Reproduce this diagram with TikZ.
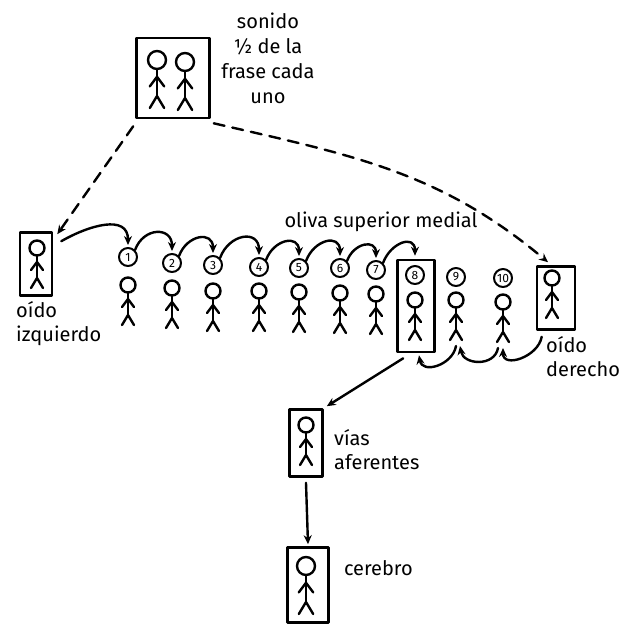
\documentclass[tikz,border=0pt]{standalone}
\usepackage{fontspec}
\setmainfont{Fira Sans}
\usetikzlibrary{arrows.meta,positioning}

\begin{document}
\begin{tikzpicture}[
x=1pt, y=1pt,
line width=2.4pt, line cap=round, line join=round,
box/.style={draw, rectangle, line width=2.6pt, inner sep=0pt},
num/.style={draw, circle, line width=2pt, inner sep=0pt,
	minimum size=18pt, font=\fontsize{12}{12}\selectfont},
lbl/.style={align=left, inner sep=0pt, font=\fontsize{20}{24}\selectfont},
arr/.style={-{Stealth[length=9pt,width=8pt]}},
dasharr/.style={arr, dash pattern=on 11pt off 8pt},
stick/.pic={
	\draw (0,0) circle (7.5);
	\draw (0,-7.5) -- (0,-30);
	\draw (-6,-22) -- (0,-14) -- (6,-22);
	\draw (-6,-40) -- (0,-30) -- (6,-40);
	\coordinate (-feet) at (0,-46);
}
]
\useasboundingbox (0,0) rectangle (619,-625);

% the sound source
\node[box, minimum width=73pt, minimum height=80pt] (sonido) at (173,-78) {};
\pic[scale=1.2] (s1) at (157,-60) {stick};
\pic[scale=1.2] (s2) at (185,-62) {stick};
\node[align=center, inner sep=0pt, font=\fontsize{20}{25}\selectfont]
	(sonidotxt) at (268,-58) {sonido\\½ de la\\frase cada\\uno};

% ears
\node[box, minimum width=32pt, minimum height=63pt] (izq) at (36,-264) {};
\pic (fi) at (37,-248) {stick};
\node[lbl, anchor=north west] (izqtxt) at (15,-300) {oído\\izquierdo};

\node[box, minimum width=38pt, minimum height=63pt] (der) at (556,-298) {};
\pic (fd) at (552,-278) {stick};
\node[lbl, anchor=north west] (dertxt) at (545,-335) {oído\\derecho};

% the row of neurons
\node[box, minimum width=37pt, minimum height=92pt] (ocho) at (416,-306) {};
\foreach \i/\x/\y/\h in {1/128/257/285, 2/172/263/288, 3/213/265/291,
	4/259/267/291, 5/299/268/292, 6/340/268/293, 7/376/270/294,
	8/415/275/300, 9/456/277/300, 10/503/278/302}
{
	\node[num] (n\i) at (\x,-\y) {\i};
	\pic (f\i) at (\x,-\h) {stick};
}
\node[lbl] (oliva) at (381,-222) {oliva superior medial};

\draw[arr] ([xshift=8pt,yshift=-10pt]izq.north east)
	to[out=30,in=90,looseness=1.2] ([yshift=2pt]n1.north);
\foreach \i in {1,...,6}
{
	\pgfmathsetmacro\j{int(\i + 1)}
	\draw[arr] (n\i.north east) to[out=70,in=90,looseness=1.7] ([yshift=2pt]n\j.north);
}
\draw[arr] (n7.north east) to[out=70,in=90,looseness=1.7] ([yshift=3pt]n8.north |- ocho.north);

% back from the right ear
\draw[arr] ([xshift=6pt,yshift=-6pt]der.south west)
	to[out=-100,in=-90,looseness=1.3] (f10-feet);
\draw[arr] ([xshift=-5pt]f10-feet) to[out=-100,in=-80,looseness=1.3] ([xshift=4pt]f9-feet);
\draw[arr] (f9-feet) to[out=-100,in=-80,looseness=1.3] ([xshift=3pt,yshift=-2pt]ocho.south);

% sound reaching both ears
\draw[dasharr] ([xshift=-2pt,yshift=-7pt]sonido.south west) -- ([xshift=4pt,yshift=-3pt]izq.north east);
\draw[dasharr] ([xshift=3pt,yshift=-4pt]sonido.south east)
	to[out=-13,in=140] ([xshift=-8pt,yshift=3pt]der.north);

% up to the brain
\node[box, minimum width=33pt, minimum height=67pt] (vias) at (306,-443) {};
\pic (fv) at (306,-425) {stick};
\node[lbl, anchor=north west] (viastxt) at (333,-428) {vías\\aferentes};

\node[box, minimum width=41pt, minimum height=75pt] (cerebro) at (308,-585) {};
\pic[scale=1.2] (fc) at (306,-566) {stick};
\node[lbl, right=13pt of cerebro.east, anchor=west, yshift=17pt] (cerebrotxt) {cerebro};

\draw[arr] ([xshift=7pt,yshift=-5pt]ocho.south west) -- ([xshift=3pt,yshift=2pt]vias.north east);
\draw[arr] ([yshift=-5pt]vias.south) -- ([yshift=2pt]cerebro.north);
\end{tikzpicture}
\end{document}
